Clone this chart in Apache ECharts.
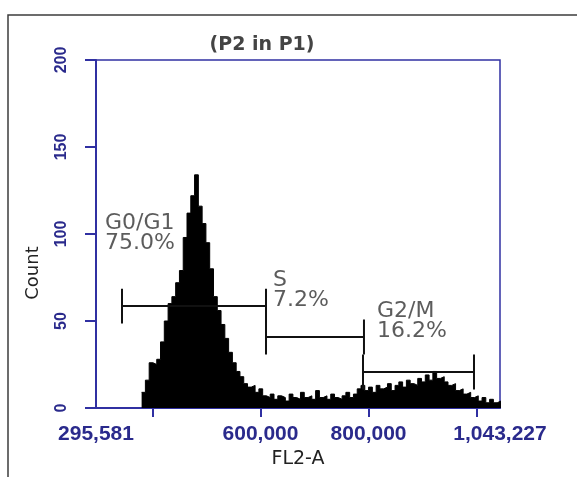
<!DOCTYPE html>
<html>
<head>
<meta charset="utf-8">
<script src="https://cdn.jsdelivr.net/npm/echarts@6/dist/echarts.min.js"></script>
<style>
  html, body { margin: 0; padding: 0; background: #fff; }
  #chart { width: 577px; height: 477px; }
</style>
</head>
<body>
<div id="chart"></div>
<script>
// FL2-A histogram, bins start at binStart and are binWidth wide
const binStart = 380000;
const binWidth = 7000;
const counts = [
  9, 16, 26, 25, 28, 38, 50, 60, 64, 72,
  79, 98, 112, 122, 134, 116, 106, 95, 80, 64,
  56, 48, 40, 32, 26, 21, 18, 14, 12, 13,
  9, 11, 7, 6, 8, 5, 7, 6, 4, 8,
  6, 5, 9, 6, 7, 5, 10, 6, 7, 5,
  8, 6, 5, 7, 9, 6, 8, 11, 13, 10,
  12, 9, 13, 11, 12, 14, 10, 13, 15, 12,
  16, 14, 13, 17, 15, 19, 16, 21, 17, 18,
  15, 13, 14, 10, 11, 8, 9, 6, 7, 4,
  6, 3, 5, 3, 4
];

// gates (markers)
const gateNames = ['G0/G1', 'S', 'G2/M'];
const gatePercents = ['75.0%', '7.2%', '16.2%'];
const gateFrom = [343700, 610200, 789700];
const gateTo = [610200, 791500, 995100];
const gateLevel = [58.6, 40.8, 20.7];
// where the gate texts sit, in data units
const gateTextX = [312200, 623100, 815600];
const gateTextY = [100.3, 67.8, 49.7];

// axes
const xMin = 295581;
const xMax = 1043227;
const xLabelValues = [295581, 600000, 800000, 1043227];
const xTickValues = [400000, 600000, 800000, 1000000];
const yMin = 0;
const yMax = 200;
const yStep = 50;

const axisBlue = '#3030a2';
const labelBlue = '#2a2a8c';

const histData = counts.map((c, i) => [binStart + i * binWidth, c]);
histData.push([binStart + counts.length * binWidth, counts[counts.length - 1]]);

const capH = 10;
const gateSeries = gateNames.map((name, i) => ({
  name: name,
  type: 'line',
  silent: true,
  showSymbol: false,
  lineStyle: { color: '#111', width: 2 },
  data: [
    [gateFrom[i], gateLevel[i] + capH],
    [gateFrom[i], gateLevel[i] - capH],
    [gateFrom[i], gateLevel[i]],
    [gateTo[i], gateLevel[i]],
    [gateTo[i], gateLevel[i] + capH],
    [gateTo[i], gateLevel[i] - capH]
  ],
  z: 5
}));

const chart = echarts.init(document.getElementById('chart'));
chart.setOption({
  animation: false,
  title: {
    text: '(P2 in P1)',
    left: 257,
    top: 31,
    textAlign: 'center',
    textStyle: { fontFamily: 'DejaVu Sans', fontSize: 19, fontWeight: 'bold', color: '#444' }
  },
  graphic: [
    {
      type: 'rect',
      shape: { x: 8, y: 15, width: 620, height: 520 },
      style: { fill: null, stroke: '#3c3c3c', lineWidth: 1.5 },
      silent: true
    },
    {
      type: 'text',
      x: 33,
      y: 273,
      rotation: Math.PI / 2,
      style: {
        text: 'Count',
        fontFamily: 'DejaVu Sans',
        fontSize: 18,
        fill: '#222',
        align: 'center',
        verticalAlign: 'middle'
      }
    }
  ],
  grid: {
    left: 96, right: 77, top: 60, bottom: 69,
    show: true,
    borderColor: axisBlue,
    borderWidth: 1.5
  },
  xAxis: {
    type: 'value',
    min: xMin,
    max: xMax,
    name: 'FL2-A',
    nameLocation: 'middle',
    nameGap: 49,
    nameTextStyle: { fontFamily: 'DejaVu Sans', fontSize: 19, color: '#222', verticalAlign: 'middle' },
    axisLine: { lineStyle: { color: axisBlue, width: 2 } },
    axisTick: { show: true, length: 9, customValues: xTickValues, lineStyle: { color: axisBlue, width: 2 } },
    axisLabel: {
      customValues: xLabelValues,
      margin: 16,
      fontFamily: 'Liberation Sans',
      fontSize: 21,
      fontWeight: 'bold',
      color: labelBlue,
      formatter: v => v.toLocaleString('en-US')
    },
    splitLine: { show: false }
  },
  yAxis: {
    type: 'value',
    min: yMin,
    max: yMax,
    interval: yStep,
    axisLine: { show: true, lineStyle: { color: axisBlue, width: 2 } },
    axisTick: { show: true, length: 11, lineStyle: { color: axisBlue, width: 2 } },
    axisLabel: {
      rotate: 90,
      margin: 26,
      fontFamily: 'Liberation Sans',
      fontSize: 16,
      fontWeight: 'bold',
      color: labelBlue
    },
    splitLine: { show: false }
  },
  series: [
    {
      name: 'FL2-A',
      type: 'line',
      step: 'end',
      showSymbol: false,
      silent: true,
      lineStyle: { color: '#000', width: 1 },
      areaStyle: { color: '#000', opacity: 1 },
      data: histData,
      z: 3
    },
    ...gateSeries,
    {
      name: 'gate labels',
      type: 'scatter',
      symbolSize: 0,
      silent: true,
      data: gateNames.map((n, i) => ({ name: n + '\n' + gatePercents[i], value: [gateTextX[i], gateTextY[i]] })),
      label: {
        show: true,
        position: 'right',
        distance: 0,
        formatter: p => p.name,
        fontFamily: 'DejaVu Sans',
        fontSize: 22,
        lineHeight: 20,
        color: '#333',
        align: 'left',
        verticalAlign: 'middle'
      },
      z: 6
    }
  ]
});
</script>
</body>
</html>
